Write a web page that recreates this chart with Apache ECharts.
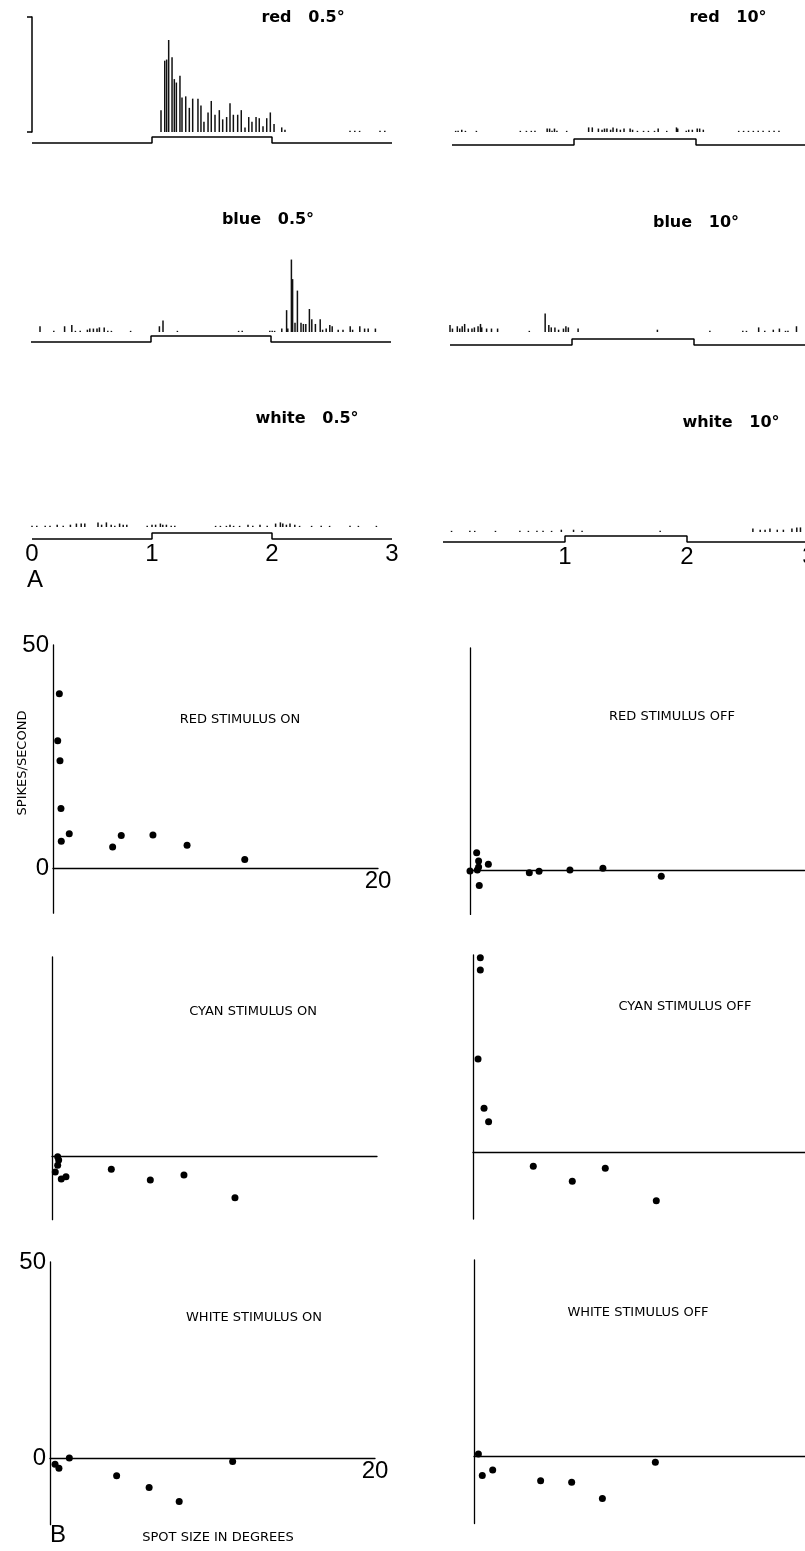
<!DOCTYPE html>
<html><head><meta charset="utf-8">
<script src="https://cdn.jsdelivr.net/npm/echarts@6/dist/echarts.min.js"></script>
<style>html,body{margin:0;padding:0;background:#fff}#c{width:805px;height:1551px}</style>
</head><body><div id="c"></div>
<script>
// ---------- DATA ----------
// Stimulus trace (time in s, 0 = off, 1 = on)
const stimT = [0, 1, 1, 2, 2, 3];
const stimV = [0, 0, 1, 1, 0, 0];
const timeTickLabels = ['0', '1', '2', '3'];
const yTickLabels = ['0', '50'];
const xTickLabels = ['20'];

// Histograms: bin time (s) and height (scale bar = 100)
const red05T = [1.075,1.106,1.122,1.139,1.167,1.186,1.203,1.233,1.25,1.281,1.311,1.339,1.383,1.408,1.433,1.467,1.494,1.525,1.561,1.589,1.622,1.65,1.678,1.714,1.744,1.775,1.806,1.833,1.867,1.894,1.925,1.956,1.986,2.017,2.081,2.108,2.65,2.69,2.73,2.9,2.94];
const red05H = [19,62,63,80,65,46,43,49,30,31,21,29,29,23,9,17,27,15,19,11,13,25,15,15,19,4,13,9,13,12,5,12,17,7,4,2,1,1,1,1,1];
const red10T = [0.03,0.05,0.08,0.11,0.2,0.56,0.61,0.65,0.68,0.78,0.8,0.82,0.84,0.86,0.94,1.12,1.15,1.2,1.23,1.25,1.27,1.3,1.32,1.35,1.38,1.41,1.46,1.48,1.52,1.57,1.61,1.66,1.69,1.76,1.84,1.85,1.92,1.94,1.97,2.01,2.03,2.06,2.35,2.39,2.43,2.47,2.51,2.55,2.6,2.64,2.68];
const red10H = [1,1,2,1,1,1,1,1,1,3,3,1,3,1,1,4,4,3,2,3,3,2,4,3,2,3,3,2,1,1,1,1,3,1,4,3,1,2,2,3,3,2,1,1,1,1,1,1,1,1,1];
const blue05T = [0.075,0.19,0.28,0.34,0.37,0.41,0.47,0.49,0.52,0.55,0.57,0.61,0.64,0.67,0.83,1.07,1.10,1.22,1.73,1.76,1.99,2.01,2.03,2.09,2.13,2.14,2.17,2.18,2.2,2.22,2.25,2.27,2.29,2.32,2.34,2.37,2.41,2.43,2.46,2.49,2.51,2.56,2.6,2.66,2.68,2.74,2.78,2.81,2.87];
const blue05H = [5,1,5,6,1,1,2,3,3,3,4,4,1,1,1,5,10,1,1,1,1,1,1,3,19,3,63,46,8,36,8,7,7,20,11,7,11,2,3,6,5,2,2,5,2,5,3,3,3];
const blue10T = [0.0,0.02,0.06,0.08,0.1,0.12,0.15,0.18,0.2,0.23,0.25,0.26,0.3,0.34,0.39,0.65,0.78,0.81,0.83,0.86,0.89,0.93,0.95,0.97,1.05,1.7,2.13,2.4,2.43,2.53,2.58,2.65,2.7,2.75,2.77,2.84];
const blue10H = [6,3,5,3,5,7,3,3,4,5,7,4,3,3,3,1,16,6,4,4,2,3,5,4,3,2,1,1,1,4,1,2,3,1,1,5];
const white05T = [0.0,0.04,0.11,0.15,0.21,0.26,0.32,0.37,0.41,0.44,0.55,0.58,0.62,0.66,0.69,0.73,0.76,0.79,0.96,1.0,1.03,1.07,1.09,1.12,1.16,1.19,1.53,1.57,1.62,1.65,1.68,1.73,1.80,1.84,1.9,1.96,2.03,2.07,2.09,2.12,2.15,2.19,2.23,2.33,2.41,2.48,2.65,2.72,2.87];
const white05H = [1,1,1,1,2,1,2,3,3,3,4,2,4,2,1,3,2,2,1,2,2,3,2,2,1,1,1,1,1,2,1,1,2,1,2,1,3,4,3,2,3,2,1,1,1,1,1,1,1];
const white10T = [0.07,0.22,0.26,0.43,0.63,0.70,0.77,0.82,0.89,0.97,1.07,1.14,1.78,2.54,2.60,2.64,2.68,2.74,2.79,2.86,2.90,2.93];
const white10H = [1,1,1,1,1,1,1,1,1,2,2,1,1,3,2,2,3,2,2,3,4,4];

// Spot size (deg) vs spikes/second
const redOnX = [0.39,0.29,0.43,0.49,0.51,1.0,3.67,4.2,6.15,8.25,11.8];
const redOnY = [39.1,28.6,24.1,13.4,6.1,7.8,4.8,7.4,7.5,5.2,2.0];
const redOffX = [0,0.41,0.53,0.53,0.45,0.57,1.13,3.65,4.25,6.15,8.18,11.77];
const redOffY = [-0.2,3.9,2.0,0.7,0,-3.5,1.3,-0.6,-0.3,0,0.4,-1.4];
const cyanOnX = [0.35,0.41,0.35,0.2,0.57,0.86,3.65,6.05,8.12,11.26];
const cyanOnY = [-0.2,-1.0,-2.3,-4.0,-5.8,-5.2,-3.3,-6.0,-4.8,-10.5];
const cyanOffX = [0.45,0.45,0.31,0.68,0.96,3.71,6.11,8.14,11.28];
const cyanOffY = [49.3,46.2,23.6,11.1,7.7,-3.6,-7.4,-4.1,-12.4];
const whiteOnX = [0.31,0.55,1.19,4.1,6.1,7.95,11.24];
const whiteOnY = [-1.6,-2.6,0,-4.5,-7.5,-11.1,-0.9];
const whiteOffX = [0.27,0.51,1.15,4.1,6.01,7.9,11.16];
const whiteOffY = [0.7,-4.8,-3.4,-6.1,-6.5,-10.6,-1.4];

// ---------- BUILD ----------
const grids = [], xAxes = [], yAxes = [], series = [];
const BIGFONT = 'Liberation Sans';
function panel(grid, xa, ya) {
  grid.outerBoundsMode = 'none';
  grid.containLabel = false;
  grids.push(grid);
  const gi = grids.length - 1;
  xAxes.push(Object.assign({gridIndex: gi, type: 'value', splitLine: {show: false}}, xa));
  yAxes.push(Object.assign({gridIndex: gi, type: 'value', splitLine: {show: false}}, ya));
  return gi;
}
function hist(left, width, base, T, H, scaleBar) {
  const ya = scaleBar ? {
    min: 0, max: 100, interval: 100, offset: 14,
    axisLine: {show: true, lineStyle: {color: '#000', width: 1.5}},
    axisTick: {show: true, length: 5, lineStyle: {color: '#000', width: 1.5}},
    axisLabel: {show: false}
  } : {min: 0, max: 100, show: false};
  const gi = panel({left: left, top: base - 115, width: width, height: 115},
    {min: 0, max: 3, show: false}, ya);
  series.push({type: 'bar', xAxisIndex: gi, yAxisIndex: gi, barWidth: 1.5,
    data: T.map((t, i) => [t, H[i]]), itemStyle: {color: '#111', opacity: 1}, silent: true});
}
function stim(left, width, high, low, showZero, labels) {
  const xa = labels ? {
    min: 0, max: 3, interval: 1,
    axisLine: {show: false}, axisTick: {show: false},
    axisLabel: {show: true, margin: 3, fontSize: 24, fontFamily: BIGFONT, color: '#000',
      formatter: v => { const s = String(v); if (!showZero && s === '0') return ''; return timeTickLabels.includes(s) ? s : ''; }}
  } : {min: 0, max: 3, show: false};
  const gi = panel({left: left, top: high, width: width, height: low - high}, xa, {min: 0, max: 1, show: false});
  series.push({type: 'line', xAxisIndex: gi, yAxisIndex: gi, symbol: 'none', clip: false,
    data: stimT.map((t, i) => [t, stimV[i]]), lineStyle: {color: '#000', width: 1.5}, silent: true});
}
function scat(left, top, xmax, ymin, pxX, pxY, X, Y, labels) {
  const lineStyle = {color: '#000', width: 1.3};
  const xa = {min: 0, max: xmax, position: 'bottom', offset: ymin * pxY,
    axisLine: {show: true, onZero: false, lineStyle: lineStyle}, axisTick: {show: false},
    axisLabel: labels ? {show: true, margin: 1, fontSize: 24, fontFamily: BIGFONT, color: '#000',
      formatter: v => xTickLabels.includes(String(v)) ? String(v) : ''} : {show: false}};
  if (labels) xa.interval = 20;
  const ya = {min: ymin, max: 50, interval: 1,
    axisLine: {show: true, onZero: false, lineStyle: lineStyle}, axisTick: {show: false},
    axisLabel: labels ? {show: true, margin: 4, fontSize: 24, fontFamily: BIGFONT, color: '#000',
      formatter: v => yTickLabels.includes(String(v)) ? String(v) : ''} : {show: false}};
  const gi = panel({left: left, top: top, width: xmax * pxX, height: (50 - ymin) * pxY}, xa, ya);
  series.push({type: 'scatter', xAxisIndex: gi, yAxisIndex: gi, symbol: 'circle', symbolSize: 7,
    itemStyle: {color: '#000', opacity: 1}, data: X.map((x, i) => [x, Y[i]]), silent: true});
}

// Part A
hist(32, 360, 132, red05T, red05H, true);
hist(452, 366, 132, red10T, red10H, false);
hist(31, 360, 332, blue05T, blue05H, false);
hist(450, 366, 332, blue10T, blue10H, false);
hist(32, 360, 527, white05T, white05H, false);
hist(443, 366, 532, white10T, white10H, false);
stim(32, 360, 137, 143, true, false);
stim(452, 366, 139, 145, true, false);
stim(31, 360, 336, 342, true, false);
stim(450, 366, 339, 345, true, false);
stim(32, 360, 533, 539, true, true);
stim(443, 366, 536, 542, false, true);

// Part B
const PX = 16.25;
scat(53, 645, 20, -10, PX, 4.47, redOnX, redOnY, true);
scat(470, 648, 20.6, -10, PX, 4.44, redOffX, redOffY, false);
scat(52, 957, 20, -16, PX, 3.98, cyanOnX, cyanOnY, false);
scat(473, 955, 20.45, -17, PX, 3.94, cyanOffX, cyanOffY, false);
scat(50, 1262, 20, -17, PX, 3.92, whiteOnX, whiteOnY, true);
scat(474, 1260, 20.4, -17, PX, 3.934, whiteOffX, whiteOffY, false);

function txt(text, x, y, font, rot) {
  const el = {type: 'text', x: x, y: y, silent: true,
    style: {text: text, font: font, fill: '#000', textAlign: 'center', textVerticalAlign: 'middle', align: 'center', verticalAlign: 'middle'}};
  if (rot) el.rotation = rot;
  return el;
}
const TF = 'bold 16px "DejaVu Sans"';
const SF = '13px "DejaVu Sans"';
const graphic = [
  txt('red   0.5°', 303, 18, TF), txt('red   10°', 728, 18, TF),
  txt('blue   0.5°', 268, 220, TF), txt('blue   10°', 696, 223, TF),
  txt('white   0.5°', 307, 419, TF), txt('white   10°', 731, 423, TF),
  txt('A', 35, 580, '24px "Liberation Sans"'),
  txt('B', 58, 1535, '24px "Liberation Sans"'),
  txt('RED STIMULUS ON', 240, 720, SF), txt('RED STIMULUS OFF', 672, 717, SF),
  txt('CYAN STIMULUS ON', 253, 1012, SF), txt('CYAN STIMULUS OFF', 685, 1007, SF),
  txt('WHITE STIMULUS ON', 254, 1318, SF), txt('WHITE STIMULUS OFF', 638, 1313, SF),
  txt('SPIKES/SECOND', 23, 763, '13px "DejaVu Sans"', Math.PI / 2),
  txt('SPOT SIZE IN DEGREES', 218, 1538, SF)
];

const chart = echarts.init(document.getElementById('c'), null, {renderer: 'canvas'});
chart.setOption({
  animation: false,
  backgroundColor: '#fff',
  grid: grids, xAxis: xAxes, yAxis: yAxes, series: series,
  graphic: graphic
});
</script></body></html>
